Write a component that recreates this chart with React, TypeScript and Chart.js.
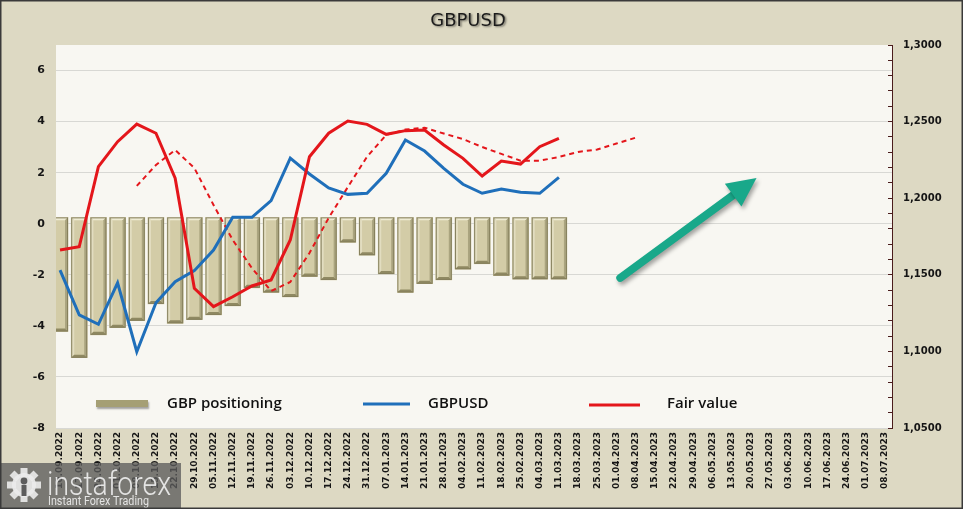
import React, { useEffect, useRef } from 'react';
import { Chart, registerables } from 'chart.js';

Chart.register(...registerables);

const categories = [
  '10.09.2022', '17.09.2022', '24.09.2022', '01.10.2022', '08.10.2022', '15.10.2022', '22.10.2022',
  '29.10.2022', '05.11.2022', '12.11.2022', '19.11.2022', '26.11.2022', '03.12.2022', '10.12.2022',
  '17.12.2022', '24.12.2022', '31.12.2022', '07.01.2023', '14.01.2023', '21.01.2023', '28.01.2023',
  '04.02.2023', '11.02.2023', '18.02.2023', '25.02.2023', '04.03.2023', '11.03.2023', '18.03.2023',
  '25.03.2023', '01.04.2023', '08.04.2023', '15.04.2023', '22.04.2023', '29.04.2023', '06.05.2023',
  '13.05.2023', '20.05.2023', '27.05.2023', '03.06.2023', '10.06.2023', '17.06.2023', '24.06.2023',
  '01.07.2023', '08.07.2023',
];

// GBP positioning (left axis)
const positioning = [
  -4.22, -5.25, -4.35, -4.07, -3.8, -3.14, -3.9, -3.76, -3.57, -3.22, -2.51, -2.69, -2.87, -2.07,
  -2.2, -0.73, -1.23, -1.97, -2.69, -2.35, -2.2, -1.78, -1.57, -2.03, -2.17, -2.17, -2.17,
];

// GBPUSD (right axis)
const gbpusd = [
  1.1531, 1.1238, 1.1177, 1.1448, 1.0998, 1.1318, 1.1455, 1.1527, 1.1662, 1.1875, 1.1875, 1.1984,
  1.2262, 1.2158, 1.2067, 1.2025, 1.2032, 1.2163, 1.238, 1.2308, 1.2195, 1.2091, 1.2032, 1.206,
  1.2039, 1.2032, 1.2136,
];

// Fair value (right axis)
const fairValue = [
  1.1662, 1.1683, 1.2206, 1.2369, 1.2484, 1.2424, 1.213, 1.1412, 1.1292, 1.1357, 1.1427, 1.1466,
  1.1727, 1.2271, 1.2424, 1.2504, 1.2482, 1.2417, 1.2441, 1.2445, 1.2347, 1.226, 1.2145, 1.2243,
  1.2223, 1.2336, 1.2391,
];

// Fair value trend, dashed (right axis)
const fairValueTrend: (number | null)[] = [
  null, null, null, null, 1.208, 1.2217, 1.2315, 1.2197, 1.1956, 1.1727, 1.1544, 1.1394, 1.1453,
  1.1642, 1.1871, 1.2073, 1.2271, 1.2413, 1.2448, 1.246, 1.2422, 1.2386, 1.2334, 1.2289, 1.2245,
  1.2245, 1.2269, 1.2302, 1.2318, 1.2357, 1.2395,
];

const leftTicks = [-8, -6, -4, -2, 0, 2, 4, 6];
const rightTicks = [1.05, 1.1, 1.15, 1.2, 1.25, 1.3];
const BAR_TOP = 0.25;

// arrow annotation, in data units (x index, right-axis value)
const arrowFrom = { x: 29.2, y: 1.148 };
const arrowTo = { x: 36.3, y: 1.2132 };

const BLUE = '#1f6fba';
const RED = '#e4161b';
const AXIS_DARK = '#4a1c1c';

export default function App() {
  const ref = useRef<HTMLCanvasElement>(null);

  useEffect(() => {
    document.body.style.margin = '0';
    const canvas = ref.current!;

    const toPts = (arr: (number | null)[]) =>
      arr.map((v, i) => ({ x: i, y: v })).filter((p) => p.y !== null);

    const background = {
      id: 'bg',
      beforeDraw(chart: any) {
        const { ctx, chartArea: a, width, height } = chart;
        ctx.save();
        ctx.fillStyle = '#ddd9c3';
        ctx.fillRect(0, 0, width, height);
        ctx.fillStyle = '#f8f7f2';
        ctx.fillRect(a.left, a.top, a.right - a.left, a.bottom - a.top);
        ctx.restore();
      },
    };

    const bevel = {
      id: 'bevel',
      afterDatasetDraw(chart: any, args: any) {
        if (args.index !== 0) return;
        const { ctx, chartArea: a } = chart;
        ctx.save();
        ctx.beginPath();
        ctx.rect(a.left, a.top, a.right - a.left, a.bottom - a.top);
        ctx.clip();
        args.meta.data.forEach((el: any) => {
          const { x, y, base, width } = el.getProps(['x', 'y', 'base', 'width'], true);
          const l = x - width / 2;
          const r = x + width / 2;
          const t = Math.min(y, base);
          const b = Math.max(y, base);
          const e = 3;
          ctx.fillStyle = '#eeebd3';
          ctx.beginPath();
          ctx.moveTo(l, t); ctx.lineTo(r, t); ctx.lineTo(r - e, t + e); ctx.lineTo(l + e, t + e); ctx.closePath();
          ctx.fill();
          ctx.fillStyle = '#e2ddc0';
          ctx.beginPath();
          ctx.moveTo(l, t); ctx.lineTo(l + e, t + e); ctx.lineTo(l + e, b - e); ctx.lineTo(l, b); ctx.closePath();
          ctx.fill();
          ctx.fillStyle = '#aaa47f';
          ctx.beginPath();
          ctx.moveTo(r, t); ctx.lineTo(r - e, t + e); ctx.lineTo(r - e, b - e); ctx.lineTo(r, b); ctx.closePath();
          ctx.fill();
          ctx.fillStyle = '#8f8962';
          ctx.beginPath();
          ctx.moveTo(l, b); ctx.lineTo(r, b); ctx.lineTo(r - e, b - e); ctx.lineTo(l + e, b - e); ctx.closePath();
          ctx.fill();
          ctx.strokeStyle = '#857f5c';
          ctx.lineWidth = 1;
          ctx.strokeRect(l + 0.5, t + 0.5, width - 1, b - t - 1);
        });
        ctx.restore();
      },
    };

    const overlay = {
      id: 'overlay',
      afterDraw(chart: any) {
        const { ctx, width, height, chartArea: a } = chart;
        const xs = chart.scales.x;
        const ys = chart.scales.y1;
        ctx.save();

        // right axis line
        ctx.strokeStyle = AXIS_DARK;
        ctx.lineWidth = 1;
        ctx.beginPath();
        ctx.moveTo(Math.round(ys.left) + 0.5, a.top);
        ctx.lineTo(Math.round(ys.left) + 0.5, a.bottom);
        ctx.stroke();

        // title
        ctx.font = '18px "DejaVu Sans"';
        ctx.textAlign = 'center';
        ctx.textBaseline = 'middle';
        ctx.shadowColor = 'rgba(0,0,0,0.45)';
        ctx.shadowOffsetX = 1.5;
        ctx.shadowOffsetY = 1.5;
        ctx.shadowBlur = 2;
        ctx.fillStyle = '#1b1b1b';
        ctx.fillText('GBPUSD', 468, 21);
        ctx.shadowColor = 'transparent';

        // legend
        const ly = 404;
        ctx.shadowColor = 'rgba(0,0,0,0.35)';
        ctx.shadowOffsetX = 1;
        ctx.shadowOffsetY = 2;
        ctx.shadowBlur = 2;
        ctx.fillStyle = '#a59f74';
        ctx.fillRect(96, ly - 4, 52, 7);
        ctx.shadowColor = 'transparent';
        ctx.lineWidth = 3;
        ctx.strokeStyle = BLUE;
        ctx.beginPath(); ctx.moveTo(363, ly); ctx.lineTo(410, ly); ctx.stroke();
        ctx.strokeStyle = RED;
        ctx.beginPath(); ctx.moveTo(589, ly + 1); ctx.lineTo(640, ly + 1); ctx.stroke();
        ctx.font = '600 15px "Open Sans"';
        ctx.textAlign = 'left';
        ctx.textBaseline = 'middle';
        ctx.fillStyle = '#111';
        ctx.fillText('GBP positioning', 167, ly);
        ctx.fillText('GBPUSD', 428, ly);
        ctx.fillText('Fair value', 667, ly);

        // arrow
        const x0 = xs.getPixelForValue(arrowFrom.x);
        const y0 = ys.getPixelForValue(arrowFrom.y);
        const x1 = xs.getPixelForValue(arrowTo.x);
        const y1 = ys.getPixelForValue(arrowTo.y);
        const dx = x1 - x0, dy = y1 - y0;
        const len = Math.hypot(dx, dy);
        const ux = dx / len, uy = dy / len;
        const px = -uy, py = ux;
        const headLen = 29, headHalf = 14;
        const bx = x1 - ux * headLen, by = y1 - uy * headLen;
        ctx.shadowColor = 'rgba(0,0,0,0.35)';
        ctx.shadowOffsetX = 2;
        ctx.shadowOffsetY = 3;
        ctx.shadowBlur = 4;
        ctx.fillStyle = '#19a88a';
        ctx.strokeStyle = '#19a88a';
        ctx.lineCap = 'round';
        ctx.lineWidth = 8;
        ctx.beginPath(); ctx.moveTo(x0, y0); ctx.lineTo(bx + ux * 4, by + uy * 4); ctx.stroke();
        ctx.beginPath();
        ctx.moveTo(x1, y1);
        ctx.lineTo(bx + px * headHalf, by + py * headHalf);
        ctx.lineTo(bx - px * headHalf, by - py * headHalf);
        ctx.closePath();
        ctx.fill();
        ctx.shadowColor = 'transparent';

        // watermark logo
        ctx.fillStyle = 'rgba(92,92,92,0.78)';
        ctx.fillRect(0, 463, 181, 46);
        const gx = 24, gy = 485;
        ctx.fillStyle = 'rgba(235,235,235,0.9)';
        for (let k = 0; k < 8; k++) {
          const ang = (k * Math.PI) / 4;
          ctx.save();
          ctx.translate(gx, gy);
          ctx.rotate(ang);
          ctx.fillRect(-3.5, -17, 7, 9);
          ctx.restore();
        }
        ctx.beginPath(); ctx.arc(gx, gy, 12, 0, Math.PI * 2); ctx.fill();
        ctx.fillStyle = 'rgba(92,92,92,1)';
        ctx.beginPath(); ctx.arc(gx, gy - 4, 3.4, 0, Math.PI * 2); ctx.fill();
        ctx.fillRect(gx - 2.5, gy, 5, 11);
        ctx.fillStyle = 'rgba(240,240,240,0.9)';
        ctx.font = '300 34px Roboto';
        ctx.textAlign = 'left';
        ctx.textBaseline = 'alphabetic';
        ctx.fillText('instaforex', 47, 495, 124);
        ctx.font = '12px Roboto';
        ctx.fillText('Instant Forex Trading', 48, 505, 101);

        // frame
        ctx.strokeStyle = '#3a3a3a';
        ctx.lineWidth = 1.5;
        ctx.strokeRect(0.75, 0.75, width - 1.5, height - 1.5);
        ctx.restore();
      },
    };

    const chart = new Chart(canvas, {
      data: {
        datasets: [
          {
            type: 'bar',
            label: 'GBP positioning',
            data: positioning.map((v, i) => ({ x: i, y: [BAR_TOP, v] })) as any,
            yAxisID: 'y',
            backgroundColor: '#d3cca7',
            borderWidth: 0,
            barThickness: 16,
            order: 10,
          },
          {
            type: 'line',
            label: 'Fair value trend',
            data: toPts(fairValueTrend) as any,
            yAxisID: 'y1',
            borderColor: RED,
            borderWidth: 2,
            borderDash: [5, 4],
            pointRadius: 0,
            tension: 0,
            order: 3,
          },
          {
            type: 'line',
            label: 'GBPUSD',
            data: toPts(gbpusd) as any,
            yAxisID: 'y1',
            borderColor: BLUE,
            borderWidth: 3,
            pointRadius: 0,
            tension: 0,
            order: 2,
          },
          {
            type: 'line',
            label: 'Fair value',
            data: toPts(fairValue) as any,
            yAxisID: 'y1',
            borderColor: RED,
            borderWidth: 3,
            pointRadius: 0,
            tension: 0,
            order: 1,
          },
        ],
      },
      options: {
        responsive: false,
        animation: false,
        devicePixelRatio: 1,
        layout: { padding: { top: 45, left: 0, right: 0, bottom: 0 } },
        plugins: { legend: { display: false }, tooltip: { enabled: false }, title: { display: false } },
        scales: {
          x: {
            type: 'linear',
            offset: false,
            min: -0.21,
            max: 43.36,
            afterBuildTicks: (s: any) => {
              s.ticks = categories.map((_, i) => ({ value: i }));
            },
            afterFit: (s: any) => {
              s.height = 81;
            },
            grid: { display: false, drawTicks: false, offset: false },
            border: { display: false },
            ticks: {
              autoSkip: false,
              minRotation: 90,
              maxRotation: 90,
              padding: 4,
              color: '#151515',
              font: { family: 'DejaVu Sans', size: 9, weight: 'bold' },
              callback: (v: any) => categories[v as number] ?? '',
            },
          },
          y: {
            type: 'linear',
            position: 'left',
            min: -8,
            max: 7,
            afterBuildTicks: (s: any) => {
              s.ticks = leftTicks.map((v) => ({ value: v }));
            },
            afterFit: (s: any) => {
              s.width = 56;
            },
            grid: { color: '#d8d8d4', lineWidth: 1, drawTicks: false },
            border: { display: false },
            ticks: {
              padding: 11,
              color: '#151515',
              font: { family: 'DejaVu Sans', size: 11, weight: 'bold' },
              callback: (v: any) => String(v),
            },
          },
          y1: {
            type: 'linear',
            position: 'right',
            min: 1.05,
            max: 1.3,
            afterBuildTicks: (s: any) => {
              const t: any[] = [];
              for (let k = 0; k <= 25; k++) t.push({ value: Math.round((1.05 + k * 0.01) * 100) / 100 });
              s.ticks = t;
            },
            afterFit: (s: any) => {
              s.width = 71;
            },
            grid: { drawOnChartArea: false, drawTicks: true, tickLength: -4, tickColor: AXIS_DARK, tickWidth: 1 },
            border: { display: true, color: AXIS_DARK, width: 1 },
            ticks: {
              autoSkip: false,
              padding: 15,
              color: '#151515',
              font: { family: 'DejaVu Sans', size: 10, weight: 'bold' },
              callback: (v: any) => {
                const n = Number(v);
                const isMajor = rightTicks.some((r) => Math.abs(r - n) < 1e-6);
                return isMajor ? n.toFixed(4).replace('.', ',') : '';
              },
            },
          },
        },
      },
      plugins: [background, bevel, overlay],
    } as any);

    return () => chart.destroy();
  }, []);

  return (
    <div style={{ width: 963, height: 509 }}>
      <canvas ref={ref} width={963} height={509} style={{ display: 'block' }} />
    </div>
  );
}
